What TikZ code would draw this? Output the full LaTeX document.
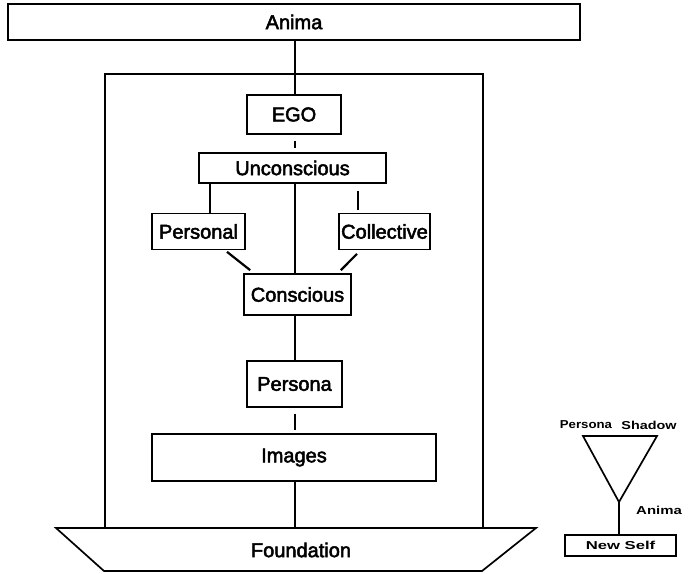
\documentclass[tikz,border=0pt]{standalone}
\usepackage{graphicx}
\usepackage{fontspec}
\setmainfont{Liberation Sans}
\newfontfamily\boxfont{Liberation Sans}[FakeBold=2.5]
\newfontfamily\tagfont{Liberation Sans Bold}
\newcommand\widetag[2]{\scalebox{#1}[1]{#2}}
\begin{document}
\begin{tikzpicture}[x=1pt,y=-1pt,
  wire/.style={line width=1.7pt},
  box/.style={draw, line width=1.7pt, inner sep=0pt,
    font=\boxfont\fontsize{20}{24}\selectfont},
  tag/.style={inner sep=0pt, font=\tagfont\fontsize{11.5}{13}\selectfont},
  smallbox/.style={draw, line width=1.4pt, inner sep=0pt,
    font=\tagfont\fontsize{11.5}{13}\selectfont}]
\useasboundingbox (0,0) rectangle (688,573);
\fill[white] (0,0) rectangle (688,573);

% vertical axis of the main column
\coordinate (spine) at (295,0);

% top bar and enclosing frame
\node[box, minimum width=572pt, minimum height=36pt] (anima) at (294,22) {Anima};
\node[draw, line width=1.7pt, inner sep=0pt, minimum width=378pt, minimum height=454pt] (frame) at (294,301) {};

% main column
\node[box, minimum width=94pt,  minimum height=39pt] (ego)        at (294,114.5) {EGO};
\node[box, minimum width=187pt, minimum height=30pt] (uncon)      at (292.5,168) {Unconscious};
\node[box, minimum width=93pt,  minimum height=36pt] (personal)   at (198.5,231.5) {Personal};
\node[box, minimum width=91pt,  minimum height=36pt] (collective) at (384.5,231.5) {Collective};
\node[box, minimum width=107pt, minimum height=41pt] (conscious)  at (297.5,294.5) {Conscious};
\node[box, minimum width=95pt,  minimum height=46pt] (persona)    at (294.5,384) {Persona};
\node[box, minimum width=284pt, minimum height=47pt] (images)     at (294,457.5) {Images};

% base slab
\draw[wire] (56,528) -- (536,528) -- (482,571) -- (104,571) -- cycle;
\node[inner sep=0pt, font=\boxfont\fontsize{20}{24}\selectfont] (foundation) at (301,550) {Foundation};
\coordinate (base) at (295,528);

% connectors
\draw[wire] (anima.south -| spine) -- (ego.north -| spine);
\draw[wire, shorten <=6pt, shorten >=4pt] (ego.south -| spine) -- (uncon.north -| spine);
\draw[wire] (uncon.south -| spine) -- (conscious.north -| spine);
\draw[wire] ([xshift=11.5pt]personal.north |- uncon.south) -- ([xshift=11.5pt]personal.north);
\draw[wire, shorten <=7pt, shorten >=3pt] ([xshift=-26.5pt]collective.north |- uncon.south) -- ([xshift=-26.5pt]collective.north);
\draw[wire, line width=2.2pt] ([shift={(28.5,1.5)}]personal.south) -- ([shift={(7,-3)}]conscious.north west);
\draw[wire, line width=2.2pt] ([shift={(-27.5,3.5)}]collective.south) -- ([shift={(-11,-3)}]conscious.north east);
\draw[wire] (conscious.south -| spine) -- (persona.north -| spine);
\draw[wire, shorten <=6pt, shorten >=3pt] (persona.south -| spine) -- (images.north -| spine);
\draw[wire] (images.south -| spine) -- (base);

% small inset: triangle over the new self
\coordinate (tl) at (583,436);
\coordinate (tr) at (657,436);
\coordinate (apex) at (619,502);
\draw[wire] (tl) -- (tr) -- (apex) -- cycle;
\node[smallbox, minimum width=111pt, minimum height=21pt] (newself) at (620.5,545.5) {\widetag{1.45}{New Self}};
\draw[wire] (apex) -- (newself.north -| apex);
\node[tag] (lpersona) at (586,425) {\widetag{1.15}{Persona}};
\node[tag] (lshadow) at (649,425) {\widetag{1.25}{Shadow}};
\node[tag, anchor=west] (lanima) at (636,510) {\widetag{1.3}{Anima}};
\end{tikzpicture}
\end{document}
